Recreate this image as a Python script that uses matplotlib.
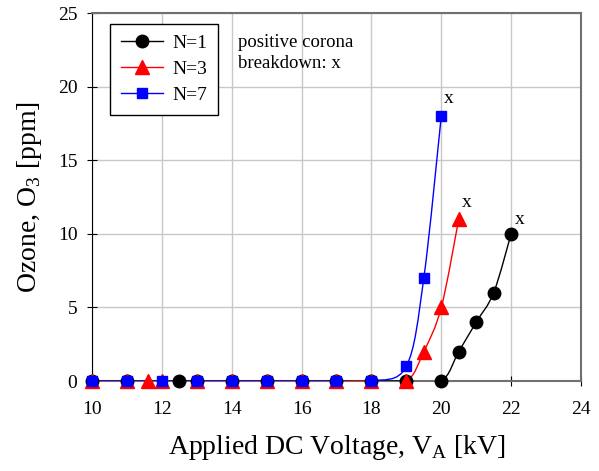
import numpy as np
import matplotlib.pyplot as plt
from matplotlib.path import Path
from matplotlib.patches import PathPatch
from matplotlib.lines import Line2D

plt.rcParams['font.family'] = ['Liberation Serif', 'DejaVu Serif']
plt.rcParams['mathtext.fontset'] = 'custom'
plt.rcParams['mathtext.rm'] = 'Liberation Serif'

# data
v_n1 = [10, 11, 12.5, 13, 14, 15, 16, 17, 18, 19, 20, 20.5, 21, 21.5, 22]
o_n1 = [0, 0, 0, 0, 0, 0, 0, 0, 0, 0, 0, 2, 4, 6, 10]
v_n3 = [10, 11, 11.6, 12, 13, 14, 15, 16, 17, 18, 19, 19.5, 20, 20.5]
o_n3 = [0, 0, 0, 0, 0, 0, 0, 0, 0, 0, 0, 2, 5, 11]
v_n7 = [10, 11, 12, 13, 14, 15, 16, 17, 18, 19, 19.5, 20]
o_n7 = [0, 0, 0, 0, 0, 0, 0, 0, 0, 1, 7, 18]

# breakdown marks ("x") next to last points
bd_x = [20.22, 20.74, 22.25]
bd_y = [19.2, 12.1, 11.0]

series = [
    ('N=1', v_n1, o_n1, 'black', 'o', 9),
    ('N=3', v_n3, o_n3, 'red', '^', 9.5),
    ('N=7', v_n7, o_n7, 'blue', 's', 7.2),
]


def smooth_path(x, y):
    # Excel style smoothed line (cubic bezier, Catmull-Rom tangents)
    p = np.column_stack([x, y]).astype(float)
    n = len(p)
    verts = [p[0]]
    codes = [Path.MOVETO]
    for i in range(n - 1):
        p0 = p[i - 1] if i > 0 else p[i]
        p3 = p[i + 2] if i + 2 < n else p[i + 1]
        c1 = p[i] + (p[i + 1] - p0) / 6.0
        c2 = p[i + 1] - (p3 - p[i]) / 6.0
        verts += [c1, c2, p[i + 1]]
        codes += [Path.CURVE4] * 3
    return Path(verts, codes)


fig = plt.figure(figsize=(5.99, 4.71), dpi=100)
ax = fig.add_axes([92 / 599, 1 - 381 / 471, (581 - 92) / 599, (381 - 13) / 471])

handles = []
for label, x, y, c, m, ms in series:
    ax.add_patch(PathPatch(smooth_path(x, y), facecolor='none',
                           edgecolor=c, lw=1.0, zorder=3))
    ax.plot(x, y, linestyle='none', marker=m, color=c, markersize=ms,
            clip_on=False, zorder=4)
    handles.append(Line2D([], [], color=c, lw=1.0, marker=m, markersize=ms,
                          label=label))

ax.set_xlim(10, 24)
ax.set_ylim(0, 25)
ax.set_xticks(np.arange(10, 25, 2))
ax.set_yticks(np.arange(0, 26, 5))
ax.grid(True, color='#c8c8c8', lw=1.0)
ax.set_axisbelow(True)
ax.tick_params(direction='inout', length=7, labelsize=14, colors='black')
ax.tick_params(axis='x', pad=11)
ax.tick_params(axis='y', pad=7)

for s in ['top', 'right', 'bottom']:
    ax.spines[s].set_color('#707070')
    ax.spines[s].set_linewidth(1.5)
ax.spines['left'].set_color('black')

ax.set_xlabel('Applied DC Voltage, V$_\\mathrm{A}$ [kV]', fontsize=20, labelpad=11)
ax.set_ylabel('Ozone, O$_3$ [ppm]', fontsize=20, labelpad=10)

leg = ax.legend(handles=handles, loc='upper left',
                bbox_to_anchor=((110 - 92) / 489, (381 - 24) / 368),
                borderaxespad=0, fontsize=14, frameon=True, fancybox=False,
                edgecolor='black', handlelength=2.2, borderpad=0.55,
                labelspacing=0.42, handletextpad=0.45, framealpha=1)
leg.get_frame().set_linewidth(1.0)

ax.text(14.18, 23.6, 'positive corona\nbreakdown: x', fontsize=13.5,
        va='top', ha='left', linespacing=1.3)
for bx, by in zip(bd_x, bd_y):
    ax.text(bx, by, 'x', fontsize=14, ha='center', va='center')

fig.savefig('out.png', dpi=100)
